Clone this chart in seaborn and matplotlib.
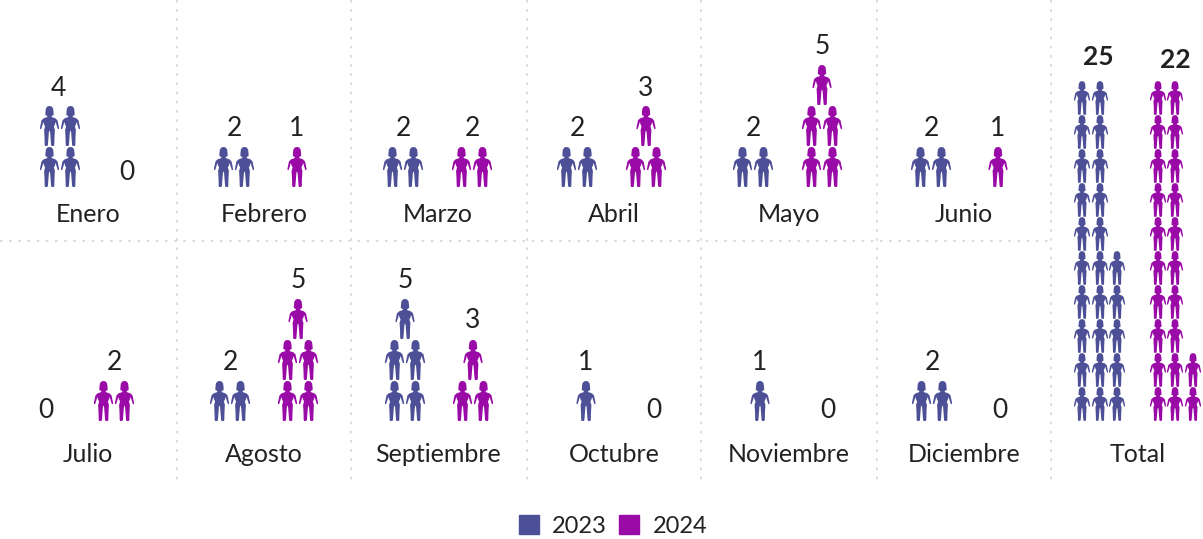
import matplotlib
matplotlib.use("Agg")
import matplotlib.pyplot as plt
from matplotlib.path import Path
from matplotlib.patches import Patch
import seaborn as sns
import pandas as pd

sns.set_theme(style="white")
plt.rcParams["font.family"] = ["Lato", "DejaVu Sans"]

months = ["Enero", "Febrero", "Marzo", "Abril", "Mayo", "Junio",
          "Julio", "Agosto", "Septiembre", "Octubre", "Noviembre", "Diciembre"]
count_2023 = [4, 2, 2, 2, 2, 2, 0, 2, 5, 1, 1, 2]
count_2024 = [0, 1, 2, 3, 5, 1, 2, 5, 3, 0, 0, 0]
total_2023 = 25
total_2024 = 22

blue = "#4E5097"
purple = "#990AA6"
ink = "#222222"

# layout in pixels (axes below run 0-1203 / 539-0)
cell_center = [88, 264, 438, 614, 789, 964]
offs_2023 = [-28, -30, -35, -37, -36, -33, -42, -34, -33, -28, -29, -32]
offs_2024 = [39, 33, 34, 32, 33, 34, 26, 34, 35, 40, 39, 36]
base_y = [187, 421]
label_y = [215, 455]
dividers = [177, 351, 527, 701, 877, 1051]


# little person marker, right half then mirrored
half = [(0, 1.0), (0.1, 0.98), (0.18, 0.88), (0.2, 0.72), (0.21, 0.56), (0.12, 0.5),
        (0.1, 0.45), (0.3, 0.38), (0.4, 0.28), (0.47, -0.05), (0.48, -0.14), (0.42, -0.16),
        (0.36, 0.02), (0.31, 0.2), (0.26, 0.05), (0.22, -0.02), (0.27, -0.2), (0.25, -0.55),
        (0.24, -0.95), (0.21, -1.0), (0.11, -1.0), (0.08, -0.95), (0.03, -0.3), (0, -0.22)]
person = Path(half + [(-x, y) for x, y in half[-2:0:-1]] + [half[0]], closed=True)


def stack(x, bottom, n, step_x, step_y):
    # rows of two, the odd one sits alone on top
    pts = []
    row = 0
    while n > 0:
        k = min(n, 2)
        for i in range(k):
            pts.append((x + (i - (k - 1) / 2) * step_x, bottom - row * step_y))
        n -= k
        row += 1
    return pts


def total_stack(xs, bottom, n, step_y):
    # ten rows high, what is left goes in the third column
    pts = []
    for row in range(10):
        for col in range(2):
            pts.append((xs[col], bottom - row * step_y))
    for row in range(n - 20):
        pts.append((xs[2], bottom - row * step_y))
    return pts


fig = plt.figure(figsize=(12.03, 5.39), dpi=100)
ax = fig.add_axes([0, 0, 1, 1])
ax.set_xlim(0, 1203)
ax.set_ylim(539, 0)
ax.axis("off")

for x in dividers:
    ax.vlines(x, 0, 480, color="#D4D4D4", lw=1.2, ls=(0, (1.5, 4)))
ax.hlines(241, 0, 1051, color="#D4D4D4", lw=1.2, ls=(0, (1.5, 4)))

rows = []
for i, m in enumerate(months):
    r = i // 6
    c = cell_center[i % 6]
    cy = base_y[r] - 20
    for year, n, off in (("2023", count_2023[i], offs_2023[i]), ("2024", count_2024[i], offs_2024[i])):
        for x, y in stack(c + off, cy, n, 21, 41):
            rows.append({"x": x, "y": y, "year": year})
        levels = (n + 1) // 2
        if n == 0:
            ty = base_y[r] - (15 if r == 0 else 11)
        else:
            ty = base_y[r] - 41 * levels - (17 if r == 0 else 18)
        tx = c + off - (1.5 if n == 4 else 0)
        ax.text(tx, ty, str(n), ha="center", va="center", fontsize=19, color=ink)
    ax.text(c, label_y[r], m, ha="center", va="center", fontsize=18, color=ink)

df = pd.DataFrame(rows)
sns.scatterplot(data=df, x="x", y="y", hue="year", palette={"2023": blue, "2024": purple},
                marker=person, s=830, linewidth=0, legend=False, ax=ax)

rows_t = []
for x, y in total_stack([1082, 1100, 1117], 404, total_2023, 34):
    rows_t.append({"x": x, "y": y, "year": "2023"})
for x, y in total_stack([1158, 1175, 1193], 404, total_2024, 34):
    rows_t.append({"x": x, "y": y, "year": "2024"})
df_t = pd.DataFrame(rows_t)
sns.scatterplot(data=df_t, x="x", y="y", hue="year", palette={"2023": blue, "2024": purple},
                marker=person, s=590, linewidth=0, legend=False, ax=ax)

ax.set_xlabel("")
ax.set_ylabel("")
ax.text(1098, 57, str(total_2023), ha="center", va="center", fontsize=19, fontweight="bold", color=ink)
ax.text(1175, 60, str(total_2024), ha="center", va="center", fontsize=19, fontweight="bold", color=ink)
ax.text(1138, 455, "Total", ha="center", va="center", fontsize=18, color=ink)

handles = [Patch(color=blue, label="2023"), Patch(color=purple, label="2024")]
ax.legend(handles=handles, ncol=2, loc="center", bbox_to_anchor=(613 / 1203, 1 - 526 / 539),
          frameon=False, fontsize=17, labelcolor=ink, handlelength=0.85, handleheight=0.85,
          handletextpad=0.58, columnspacing=0.5, borderpad=0, borderaxespad=0)

fig.savefig("out.png", dpi=100)
